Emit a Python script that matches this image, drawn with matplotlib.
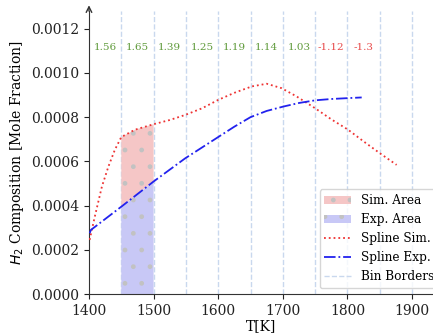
import numpy as np
import matplotlib
matplotlib.use("Agg")
import matplotlib.pyplot as plt
from matplotlib.patches import Patch
from matplotlib.lines import Line2D

# spline values
sim_T = [1401, 1409, 1420, 1430, 1440, 1450, 1471, 1500, 1525, 1549, 1575, 1600, 1625, 1652,
         1675, 1698, 1721, 1750, 1775, 1801, 1825, 1850, 1876]
sim_y = [0.000245, 0.00035, 0.000486, 0.000576, 0.000652, 0.00071, 0.000743, 0.000768, 0.000787,
         0.00081, 0.00084, 0.000878, 0.00091, 0.000939, 0.000951, 0.000931, 0.000894, 0.00084,
         0.00079, 0.000743, 0.00069, 0.000637, 0.000584]
exp_T = [1401, 1403, 1450, 1500, 1549, 1600, 1625, 1650, 1675, 1701, 1725, 1750, 1775, 1801, 1822]
exp_y = [0.000275, 0.00029, 0.000395, 0.000509, 0.000614, 0.00071, 0.000757, 0.0008, 0.000828,
         0.000848, 0.000864, 0.000876, 0.000882, 0.000886, 0.000889]

bin_borders = [1450, 1500, 1550, 1600, 1650, 1700, 1750, 1800, 1850, 1900]
bin_centers = [1425, 1475, 1525, 1575, 1625, 1675, 1725, 1775, 1825]
bin_scores = ["1.56", "1.65", "1.39", "1.25", "1.19", "1.14", "1.03", "-1.12", "-1.3"]
area_range = (1450, 1500)

plt.rcParams['font.family'] = 'DejaVu Serif'
plt.rcParams['hatch.color'] = '#c2c2c2'
plt.rcParams['hatch.linewidth'] = 1.0

fig = plt.figure(figsize=(4.33, 3.33), dpi=100)
ax = fig.add_axes([0.2055, 0.117, 0.794, 0.85])

for b in bin_borders:
    ax.axvline(b, color='#c9d8ee', ls='--', lw=1.0, zorder=0)

Ta = np.linspace(area_range[0], area_range[1], 100)
sa = np.interp(Ta, sim_T, sim_y)
ea = np.interp(Ta, exp_T, exp_y)
ax.fill_between(Ta, ea, sa, facecolor='#f5c6c6', edgecolor='#c2c2c2', hatch='.', lw=0, zorder=1)
ax.fill_between(Ta, 0, ea, facecolor='#c8c8f6', edgecolor='#c2c2c2', hatch='.', lw=0, zorder=1)

ax.plot(sim_T, sim_y, color='#ee3333', ls=':', lw=1.3, zorder=3)
ax.plot(exp_T, exp_y, color='#2222ee', ls='-.', lw=1.3, zorder=3)

for c, s in zip(bin_centers, bin_scores):
    col = '#e84a4a' if s.startswith('-') else '#5f9a3a'
    ax.text(c, 0.001115, s, color=col, fontsize=7.5, ha='center', va='center')

ax.set_xlim(1400, 1932)
ax.set_ylim(0, 0.00128)
ax.set_yticks([0, 0.0002, 0.0004, 0.0006, 0.0008, 0.0010, 0.0012])
ax.set_yticklabels(["0.0000", "0.0002", "0.0004", "0.0006", "0.0008", "0.0010", "0.0012"])
ax.set_xticks([1400, 1500, 1600, 1700, 1800, 1900])
ax.tick_params(labelsize=10, colors='#222222')
ax.spines['top'].set_visible(False)
ax.spines['right'].set_visible(False)
for sp in ['left', 'bottom']:
    ax.spines[sp].set_color('#333333')
ax.annotate('', xy=(0, 1.03), xycoords='axes fraction', xytext=(0, 0.99),
            arrowprops=dict(arrowstyle='->', color='#333333', lw=1.0), annotation_clip=False)

ax.set_xlabel('T[K]', fontsize=10, labelpad=1)
ax.set_ylabel('$H_2$ Composition [Mole Fraction]', fontsize=10)

handles = [
    Patch(facecolor='#f5c6c6', edgecolor='#c2c2c2', hatch='.', lw=0, label='Sim. Area'),
    Patch(facecolor='#c8c8f6', edgecolor='#c2c2c2', hatch='.', lw=0, label='Exp. Area'),
    Line2D([], [], color='#ee3333', ls=':', lw=1.3, label='Spline Sim.'),
    Line2D([], [], color='#2222ee', ls='-.', lw=1.3, label='Spline Exp.'),
    Line2D([], [], color='#c9d8ee', ls='--', lw=1.0, label='Bin Borders'),
]
ax.legend(handles=handles, loc='lower right', fontsize=8.7, bbox_to_anchor=(1.035, 0.0),
          framealpha=0.8, handlelength=2.2)

fig.savefig('out.png', dpi=100)
